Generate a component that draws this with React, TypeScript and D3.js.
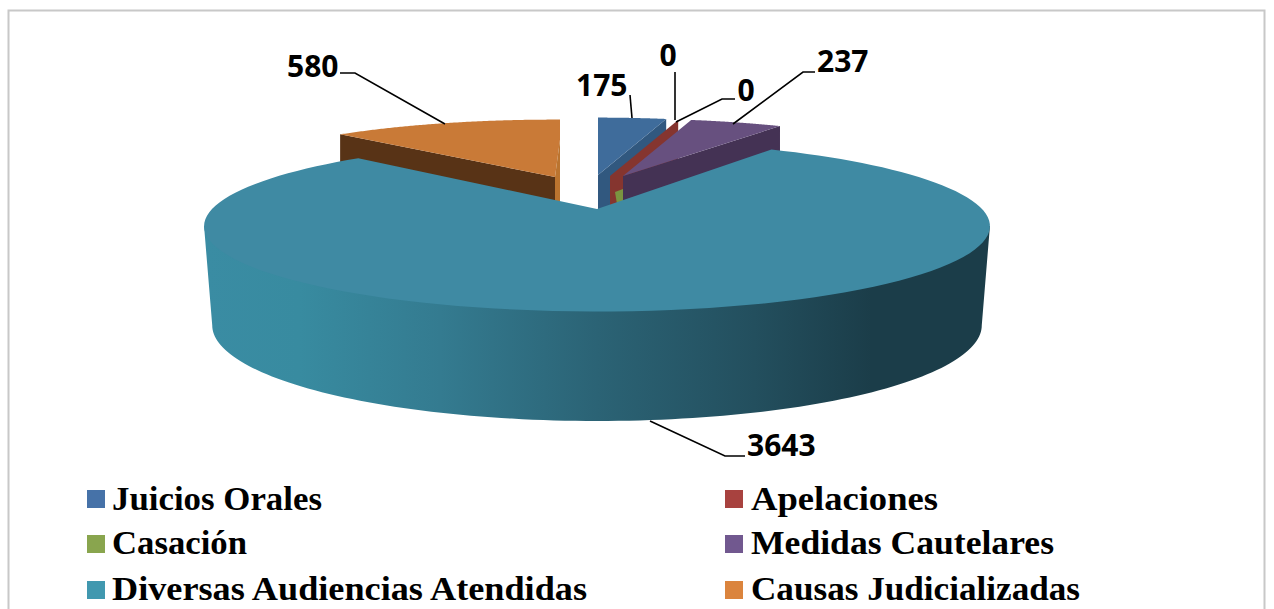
import React from "react";
import * as d3 from "d3";

// ---- data ----
const categories = ["Juicios Orales", "Apelaciones", "Casación", "Medidas Cautelares", "Diversas Audiencias Atendidas", "Causas Judicializadas"];
const values = [175, 0, 0, 237, 3643, 580];
const legendColors = ["#4672a8", "#a8423f", "#89a54e", "#71588f", "#4198af", "#db843d"];
const faceColors = ["#3f6c9b", "#85352f", "#7a9440", "#67507f", "#3f8aa3", "#c97a37"];
const wallColors = ["#31587f", "#85352f", "#7a9440", "#443254", "#3f8aa3", "#583316"];
const legendWidths = [210, 187, 135, 303, 475, 329];

// ---- layout ----
const W = 1274, H = 609;
const CX = 597;
const persp = 0.2;
const topPlane = { a: 385, b: 82, x: CX, y: 209 };
const basePlane = { a: 377, b: 92, x: CX, y: 306 };
const explodedScaleX = 0.9;
const explodedScaleY = 0.84;
const wallDrop = 60;
// where each slice's apex sits once pulled out of the pie
const apex: [number, number][] = [[598, 175], [610, 176], [616, 176], [623, 176], [598, 209], [555, 177]];
const wallStops: [number, string][] = [[0, "#3a8ca3"], [0.12, "#388ba0"], [0.3, "#347b90"], [0.5, "#2b6375"], [0.7, "#234f5e"], [0.85, "#1b3d49"], [1, "#1b3d49"]];

type Pt = [number, number];
const project = (theta: number, o: Pt, a: number, b: number): Pt => {
  const u = Math.sin(theta), v = Math.cos(theta), k = 1 + persp * v;
  return [o[0] + (a * u) / k, o[1] - (b * v) / k];
};
const line = d3.line<Pt>();
const arcPoints = (t0: number, t1: number, o: Pt, a: number, b: number): Pt[] =>
  d3.range(0, 121).map((i) => project(t0 + ((t1 - t0) * i) / 120, o, a, b));

const pies = d3.pie<number>().sort(null).startAngle(0).endAngle(2 * Math.PI)(values);

const small = (i: number) => ({ a: topPlane.a * explodedScaleX, b: topPlane.b * explodedScaleY, o: apex[i] });
const drop = (p: Pt): Pt => [p[0], p[1] + wallDrop];

const Quad = ({ a, b, fill }: { a: Pt; b: Pt; fill: string }) => (
  <path d={line([a, b, drop(b), drop(a)]) + "Z"} fill={fill} />
);

// leaders: label text, text anchor point, polyline
const labels: { text: string; x: number; y: number; anchor: string; leader: Pt[] }[] = [
  { text: "580", x: 287, y: 77, anchor: "start", leader: [[340, 73], [355, 73], [445, 124]] },
  { text: "175", x: 576, y: 96, anchor: "start", leader: [[630, 95], [632, 118]] },
  { text: "0", x: 668, y: 66, anchor: "middle", leader: [[675, 72], [675, 120]] },
  { text: "0", x: 746, y: 101, anchor: "middle", leader: [[735, 99], [722, 99], [676, 122]] },
  { text: "237", x: 817, y: 72, anchor: "start", leader: [[815, 72], [803, 72], [733, 124]] },
  { text: "3643", x: 747, y: 456, anchor: "start", leader: [[650, 421], [725, 456], [745, 456]] },
];

const legendX = [87, 725];
const legendTextX = [112, 751];
const legendY = [499, 544, 590];
const legendBase = [510, 554, 600];

export default function App() {
  const [j, r, g, m, t, o] = pies;
  const extreme = Math.acos(-persp);
  const topOf = (i: number, th: number) => { const s = small(i); return project(th, s.o, s.a, s.b); };

  const face = (i: number) => {
    const s = small(i);
    return line([s.o, ...arcPoints(pies[i].startAngle, pies[i].endAngle, s.o, s.a, s.b)]) + "Z";
  };
  const tO: Pt = [topPlane.x, topPlane.y];
  const tealFace = line([tO, ...arcPoints(t.startAngle, t.endAngle, tO, topPlane.a, topPlane.b)]) + "Z";
  const bO: Pt = [basePlane.x, basePlane.y];
  const tealWall =
    line([
      project(extreme, tO, topPlane.a, topPlane.b),
      project(2 * Math.PI - extreme, tO, topPlane.a, topPlane.b),
      ...arcPoints(2 * Math.PI - extreme, extreme, bO, basePlane.a, basePlane.b),
    ]) + "Z";

  const orangeTop = topOf(5, o.endAngle);
  const orangeApex = apex[5];
  const orangeCorner: Pt = [orangeTop[0] + 5, orangeTop[1]];
  const orangeMid: Pt = [orangeCorner[0], orangeCorner[1] + 20];

  return (
    <svg width={W} height={H} style={{ position: "absolute", left: 0, top: 0, display: "block" }}>
      <defs>
        <linearGradient id="tealWall" x1="205" x2="989" y1="0" y2="0" gradientUnits="userSpaceOnUse">
          {wallStops.map(([s, c]) => <stop key={s} offset={s} stopColor={c} />)}
        </linearGradient>
      </defs>
      <rect x={0} y={0} width={W} height={H} fill="#fff" />
      <path d={`M8.5 ${H}V10.5H1264.5V${H}`} fill="none" stroke="#c8c8c8" strokeWidth={2} />

      {/* cut walls of the pulled-out slices */}
      <Quad a={apex[0]} b={topOf(0, j.endAngle)} fill={wallColors[0]} />
      <Quad a={apex[1]} b={topOf(1, r.endAngle)} fill={wallColors[1]} />
      <path d={face(0)} fill={faceColors[0]} />
      <path d={line([[615, 192], [623, 189], [623, 201], [617, 204]])! + "Z"} fill={wallColors[2]} />
      <Quad a={apex[3]} b={topOf(3, m.endAngle)} fill={wallColors[3]} />
      <path d={face(3)} fill={faceColors[3]} />
      <Quad a={apex[5]} b={topOf(5, o.startAngle)} fill={wallColors[5]} />
      <path d={line([orangeApex, orangeTop, orangeCorner, orangeMid])! + "Z"} fill={faceColors[5]} />
      <path d={face(5)} fill={faceColors[5]} />
      <path
        d={line([orangeApex, orangeMid, [orangeMid[0], orangeApex[1] + wallDrop], [orangeApex[0], orangeApex[1] + wallDrop]])! + "Z"}
        fill="#bb742f"
      />

      {/* the large slice */}
      <path d={tealWall} fill="url(#tealWall)" />
      <path d={tealFace} fill={faceColors[4]} />

      {labels.map((l, i) => (
        <g key={i}>
          <path d={line(l.leader)!} fill="none" stroke="#000" strokeWidth={1.6} />
          <text x={l.x} y={l.y} textAnchor={l.anchor} fontFamily="'Open Sans', sans-serif" fontWeight={700} fontSize={30} fill="#000">
            {l.text}
          </text>
        </g>
      ))}

      {categories.map((c, i) => {
        const col = i % 2, row = Math.floor(i / 2);
        return (
          <g key={c}>
            <rect x={legendX[col]} y={legendY[row] - 9} width={18} height={18} fill={legendColors[i]} />
            <text
              x={legendTextX[col]}
              y={legendBase[row]}
              textLength={legendWidths[i]}
              lengthAdjust="spacingAndGlyphs"
              fontFamily="'Liberation Serif', serif"
              fontWeight={700}
              fontSize={34}
              fill="#000"
            >
              {c}
            </text>
          </g>
        );
      })}
    </svg>
  );
}
